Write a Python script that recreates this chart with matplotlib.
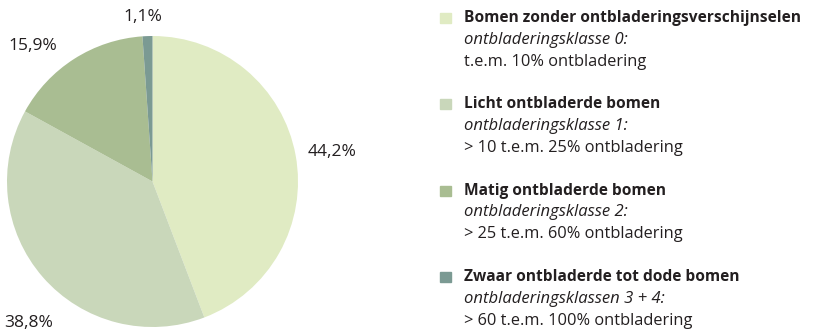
import matplotlib
matplotlib.use("Agg")
import matplotlib.pyplot as plt
import numpy as np

plt.rcParams['font.family'] = ['Open Sans', 'DejaVu Sans']

# share of trees per defoliation class (%)
shares = [44.2, 38.8, 15.9, 1.1]
colors = ['#e0ebc3', '#c9d7ba', '#a9bd92', '#7b9a93']
titles = ['Bomen zonder ontbladeringsverschijnselen',
          'Licht ontbladerde bomen',
          'Matig ontbladerde bomen',
          'Zwaar ontbladerde tot dode bomen']
classes = ['ontbladeringsklasse 0:',
           'ontbladeringsklasse 1:',
           'ontbladeringsklasse 2:',
           'ontbladeringsklassen 3 + 4:']
ranges = ['t.e.m. 10% ontbladering',
          '> 10 t.e.m. 25% ontbladering',
          '> 25 t.e.m. 60% ontbladering',
          '> 60 t.e.m. 100% ontbladering']
# where the percentage labels sit (pie radius = 1)
label_xy = [(1.237, 0.20), (-0.85, -0.97), (-0.82, 0.93), (-0.065, 1.13)]

W, H = 831, 335
fig = plt.figure(figsize=(W / 100, H / 100), dpi=100)

cx, cy, r = 152.5, 181.5, 145.5
ax = fig.add_axes([(cx - r) / W, (H - cy - r) / H, 2 * r / W, 2 * r / H])
ax.pie(shares, colors=colors, startangle=90, counterclock=False,
       wedgeprops=dict(linewidth=0))
ax.set_xlim(-1, 1)
ax.set_ylim(-1, 1)
ax.set_aspect('equal')
ax.axis('off')

txt = '#231f20'
for v, (x, y) in zip(shares, label_xy):
    ax.text(x, y, f"{v:.1f}%".replace('.', ','), ha='center', va='center',
            fontsize=12.5, color=txt, clip_on=False)

# legend blocks on the right
x0 = 464 / W
for i in range(len(shares)):
    ytop = 17.5 + 86.5 * i
    fig.patches.append(plt.Rectangle((440 / W, 1 - (ytop + 5) / H), 11 / W, 10 / H,
                                     transform=fig.transFigure, color=colors[i]))
    fig.text(x0, 1 - ytop / H, titles[i], fontsize=11.2, fontweight='bold',
             color=txt, va='center')
    fig.text(x0, 1 - (ytop + 22) / H, classes[i], fontsize=12, style='italic',
             color=txt, va='center')
    fig.text(x0, 1 - (ytop + 44) / H, ranges[i], fontsize=11.8,
             color=txt, va='center')

fig.savefig('out.png', dpi=100)
